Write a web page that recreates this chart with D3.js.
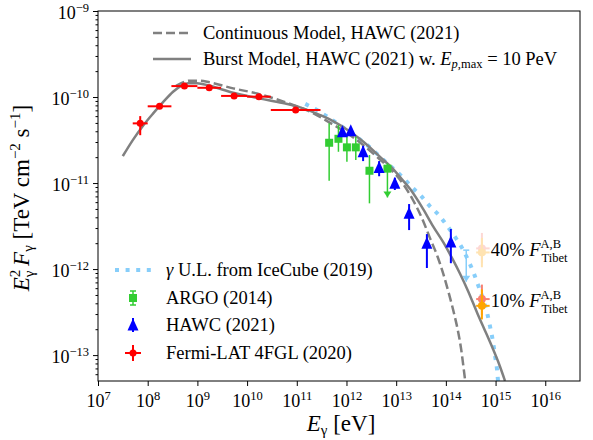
<!DOCTYPE html>
<html>
<head>
<meta charset="utf-8">
<script src="https://cdn.jsdelivr.net/npm/d3@7"></script>
<style>
  body { margin: 0; background: #fff; }
  text { font-family: "Liberation Serif", serif; fill: #000; }
</style>
</head>
<body>
<script>
// ---- data (energies in eV, fluxes in TeV cm^-2 s^-1) ----
// Fermi-LAT 4FGL band fluxes
const fermiE   = [7.07e7, 1.73e8, 5.48e8, 1.73e9, 5.48e9, 1.73e10, 9.49e10];
const fermiElo = [5e7, 1e8, 3e8, 1e9, 3e9, 1e10, 3e10];
const fermiEhi = [1e8, 3e8, 1e9, 3e9, 1e10, 3e10, 3e11];
const fermiF   = [4.94e-11, 7.80e-11, 1.34e-10, 1.28e-10, 1.03e-10, 1.01e-10, 7.06e-11];
const fermiFlo = [3.6e-11, 7.3e-11, 1.29e-10, 1.23e-10, 0.99e-10, 0.96e-10, 6.6e-11];
const fermiFhi = [6.0e-11, 8.3e-11, 1.39e-10, 1.33e-10, 1.07e-10, 1.06e-10, 7.5e-11];

// ARGO-YBJ (2014)
const argoE   = [4.48e11, 6.89e11, 1.02e12, 1.54e12, 2.90e12, 6.67e12];
const argoF   = [2.94e-11, 3.27e-11, 2.60e-11, 2.60e-11, 1.39e-11, 1.47e-11];
const argoFlo = [1.06e-11, 2.31e-11, 1.77e-11, 1.85e-11, 5.81e-12, 6.8e-12];
const argoFhi = [4.94e-11, 4.72e-11, 3.61e-11, 3.45e-11, 2.12e-11, 1.7e-11];
const argoUL  = [false, false, false, false, false, true];

// HAWC (2021)
const hawcE   = [8.28e11, 1.22e12, 2.16e12, 4.54e12, 9.40e12, 1.82e13, 4.15e13, 1.26e14];
const hawcF   = [3.95e-11, 4.06e-11, 2.31e-11, 1.52e-11, 9.93e-12, 4.45e-12, 1.99e-12, 2.07e-12];
const hawcFlo = [3.6e-11, 3.7e-11, 1.80e-11, 1.20e-11, 8.3e-12, 2.84e-12, 1.03e-12, 1.17e-12];
const hawcFhi = [4.3e-11, 4.4e-11, 2.7e-11, 1.8e-11, 1.15e-11, 5.70e-12, 2.55e-12, 2.92e-12];

// Tibet AS-gamma fractions (A = salmon, B = orange)
const tibetLabels = ['40%', '10%'];
const tibetAlpha  = [0.3, 1];
const tibetE   = [5.31e14, 5.31e14];
const tibetElo = [4.07e14, 4.07e14];
const tibetEhi = [7.6e14, 7.6e14];
const tibetAF   = [1.74e-12, 4.48e-13];
const tibetAFlo = [1.17e-12, 2.9e-13];
const tibetAFhi = [2.63e-12, 6.6e-13];
const tibetBF   = [1.56e-12, 3.74e-13];
const tibetBFlo = [1.05e-12, 2.6e-13];
const tibetBFhi = [2.3e-12, 5.8e-13];

// IceCube gamma upper limit curve
const iceE = [1.48e11, 2.34e11, 3.89e11, 7.41e11, 1.48e12, 3.02e12, 6.03e12, 9.55e12, 1.38e13,
  2.09e13, 3.16e13, 4.79e13, 7.41e13, 1.07e14, 1.55e14, 2.14e14, 2.82e14, 3.55e14, 4.47e14,
  5.62e14, 6.76e14, 7.76e14, 8.91e14, 9.77e14, 1.07e15, 1.12e15];
const iceF = [8.32e-11, 7.24e-11, 6.03e-11, 4.68e-11, 3.55e-11, 2.57e-11, 1.78e-11, 1.41e-11, 1.15e-11,
  8.91e-12, 7.08e-12, 5.37e-12, 4.17e-12, 3.16e-12, 2.34e-12, 1.74e-12, 1.26e-12, 9.33e-13, 6.46e-13,
  4.47e-13, 3.09e-13, 2.14e-13, 1.41e-13, 9.77e-14, 6.76e-14, 5.01e-14];
const iceArrowE = [2.57e14];
const iceArrowF = [1.66e-12];
const iceArrowTo = [7.1e-13];

// burst model, Ep,max = 10 PeV
const burstE = [3.16e7, 5.01e7, 8.13e7, 1.29e8, 2.04e8, 3.24e8, 4.68e8, 6.46e8, 9.77e8, 1.78e9,
  5.25e9, 1.58e10, 5.25e10, 1.17e11, 2.95e11, 5.37e11, 1.17e12, 2.19e12, 4.79e12, 8.71e12,
  1.20e13, 1.91e13, 3.47e13, 5.50e13, 8.91e13, 1.35e14, 1.95e14, 2.82e14, 4.27e14, 6.17e14,
  8.91e14, 1.17e15, 1.55e15];
const burstF = [2.06e-11, 3.16e-11, 4.68e-11, 6.46e-11, 8.71e-11, 1.15e-10, 1.35e-10, 1.45e-10, 1.45e-10, 1.35e-10,
  1.12e-10, 9.77e-11, 8.51e-11, 7.59e-11, 6.17e-11, 5.25e-11, 3.98e-11, 3.02e-11, 2.00e-11, 1.45e-11,
  1.17e-11, 8.51e-12, 5.01e-12, 3.16e-12, 2.04e-12, 1.32e-12, 8.71e-13, 5.50e-13, 3.09e-13, 1.91e-13,
  1.17e-13, 7.94e-14, 5.01e-14];

// continuous model
const contE = [3.72e8, 7.08e8, 1.12e9, 1.78e9, 5.25e9, 1.58e10, 5.25e10, 1.02e11, 1.86e11, 4.68e11,
  1.17e12, 2.40e12, 4.79e12, 8.71e12, 1.38e13, 2.19e13, 3.31e13, 4.79e13, 6.76e13, 8.91e13,
  1.17e14, 1.48e14, 1.78e14, 2.04e14, 2.24e14, 2.45e14];
const contF = [1.35e-10, 1.55e-10, 1.55e-10, 1.48e-10, 1.26e-10, 1.10e-10, 8.91e-11, 7.76e-11, 6.76e-11, 5.01e-11,
  3.63e-11, 2.63e-11, 1.86e-11, 1.35e-11, 9.77e-12, 6.31e-12, 3.89e-12, 2.29e-12, 1.41e-12, 8.71e-13,
  5.01e-13, 2.95e-13, 1.82e-13, 1.15e-13, 7.59e-14, 5.01e-14];

// axis ticks
const xTicks = [1e7, 1e8, 1e9, 1e10, 1e11, 1e12, 1e13, 1e14, 1e15, 1e16];
const xExps  = ['7', '8', '9', '10', '11', '12', '13', '14', '15', '16'];
const yTicks = [1e-13, 1e-12, 1e-11, 1e-10, 1e-9];
const yExps  = ['\u221213', '\u221212', '\u221211', '\u221210', '\u22129'];

// ---- layout ----
const svg = d3.select('body').append('svg')
  .attr('width', 593)
  .attr('height', 440);

const x = d3.scaleLog().domain([1e7, 5e16]).range([98, 580]);
const y = d3.scaleLog().domain([5e-14, 1e-9]).range([381, 11]);

const gray = '#808080';
const blue = '#87cefa';
const green = '#32cd32';
const fs = 18.5;   // legend text size

svg.append('clipPath').attr('id', 'clip')
  .append('rect')
  .attr('x', 98).attr('y', 11)
  .attr('width', 482).attr('height', 370);

const plot = svg.append('g').attr('clip-path', 'url(#clip)');

const line = d3.line()
  .x(d => x(d[0]))
  .y(d => y(d[1]))
  .curve(d3.curveMonotoneX);

function arrowHead(g, cx, cy, color) {
  g.append('path')
    .attr('d', `M${cx - 4},${cy - 6}L${cx + 4},${cy - 6}L${cx},${cy}Z`)
    .attr('fill', color);
}

function vbar(g, cx, y1, y2, color, w) {
  g.append('line')
    .attr('x1', cx).attr('x2', cx)
    .attr('y1', y1).attr('y2', y2)
    .attr('stroke', color).attr('stroke-width', w);
}

function hbar(g, x1, x2, cy, color, w) {
  g.append('line')
    .attr('x1', x1).attr('x2', x2)
    .attr('y1', cy).attr('y2', cy)
    .attr('stroke', color).attr('stroke-width', w);
}

function square(g, cx, cy, color) {
  g.append('rect')
    .attr('x', cx - 4).attr('y', cy - 4)
    .attr('width', 8).attr('height', 8)
    .attr('fill', color);
}

function triangle(g, cx, cy, color) {
  g.append('path')
    .attr('d', `M${cx},${cy - 6.5}L${cx - 5.5},${cy + 5.5}L${cx + 5.5},${cy + 5.5}Z`)
    .attr('fill', color);
}

function dot(g, cx, cy, color, r) {
  g.append('circle')
    .attr('cx', cx).attr('cy', cy).attr('r', r)
    .attr('fill', color);
}

// IceCube upper limit
plot.append('path')
  .attr('d', line(d3.zip(iceE, iceF)))
  .attr('fill', 'none')
  .attr('stroke', blue)
  .attr('stroke-width', 4)
  .attr('stroke-dasharray', '4,6.6');

iceArrowE.forEach((e, i) => {
  vbar(plot, x(e), y(iceArrowF[i]), y(iceArrowTo[i]), blue, 1.5);
  hbar(plot, x(e) - 3, x(e) + 3, y(iceArrowF[i]), blue, 1.5);
  arrowHead(plot, x(e), y(iceArrowTo[i]), blue);
});

// models
plot.append('path')
  .attr('d', line(d3.zip(contE, contF)))
  .attr('fill', 'none')
  .attr('stroke', gray)
  .attr('stroke-width', 2.5)
  .attr('stroke-dasharray', '9,4');

plot.append('path')
  .attr('d', line(d3.zip(burstE, burstF)))
  .attr('fill', 'none')
  .attr('stroke', gray)
  .attr('stroke-width', 2.5);

// ARGO
argoE.forEach((e, i) => {
  vbar(plot, x(e), y(argoFhi[i]), y(argoFlo[i]), green, 1.5);
  if (argoUL[i]) arrowHead(plot, x(e), y(argoFlo[i]), green);
  square(plot, x(e), y(argoF[i]), green);
});

// HAWC
hawcE.forEach((e, i) => {
  vbar(plot, x(e), y(hawcFhi[i]), y(hawcFlo[i]), '#0000ff', 2);
  triangle(plot, x(e), y(hawcF[i]), '#0000ff');
});

// Fermi-LAT
fermiE.forEach((e, i) => {
  hbar(plot, x(fermiElo[i]), x(fermiEhi[i]), y(fermiF[i]), '#ff0000', 2);
  vbar(plot, x(e), y(fermiFhi[i]), y(fermiFlo[i]), '#ff0000', 2);
  dot(plot, x(e), y(fermiF[i]), '#ff0000', 3.5);
});

// Tibet
tibetE.forEach((e, i) => {
  const g = plot.append('g').attr('opacity', tibetAlpha[i]);
  hbar(g, x(tibetElo[i]), x(tibetEhi[i]), y(tibetAF[i]), '#fa8072', 2);
  vbar(g, x(e), y(tibetAFhi[i]), y(tibetAFlo[i]), '#fa8072', 2);
  dot(g, x(e), y(tibetAF[i]), '#fa8072', 4);
  hbar(g, x(tibetElo[i]), x(tibetEhi[i]), y(tibetBF[i]), '#ffa500', 2);
  vbar(g, x(e), y(tibetBFhi[i]), y(tibetBFlo[i]), '#ffa500', 2);
  dot(g, x(e), y(tibetBF[i]), '#ffa500', 4);

  const x0 = x(tibetEhi[i]) + 1;
  const t = svg.append('text')
    .attr('x', x0)
    .attr('y', y(tibetAF[i]) + 8)
    .attr('font-size', fs);
  t.append('tspan').text(tibetLabels[i] + ' ');
  t.append('tspan').attr('font-style', 'italic').text('F');
  const fx = +t.node().getComputedTextLength();
  t.append('tspan').attr('font-size', 12.5).attr('dy', -8).text('A,B');
  t.append('tspan').attr('font-size', 12.5)
    .attr('x', x0 + fx + 1).attr('dy', 14).text('Tibet');
});

// ---- axes ----
svg.append('rect')
  .attr('x', 98).attr('y', 11)
  .attr('width', 482).attr('height', 370)
  .attr('fill', 'none')
  .attr('stroke', '#000')
  .attr('stroke-width', 1);

const xAxis = svg.append('g')
  .attr('transform', 'translate(0,381)')
  .call(d3.axisBottom(x).tickValues(xTicks).tickSize(5).tickPadding(5).tickFormat(''));
xAxis.select('.domain').remove();
xAxis.selectAll('.tick text').each(function (d, i) {
  const t = d3.select(this).attr('font-size', 18).attr('dy', '0.9em')
    .attr('font-family', '"Liberation Serif", serif');
  t.append('tspan').text('10');
  t.append('tspan').attr('font-size', 12.5).attr('dy', -7).text(xExps[i]);
});

const yMinor = [];
yTicks.forEach(t => { for (let k = 2; k < 10; k++) if (t * k < 1e-9) yMinor.push(t * k); });
[6e-14, 7e-14, 8e-14, 9e-14].forEach(v => yMinor.push(v));

const yMinorAxis = svg.append('g')
  .attr('transform', 'translate(98,0)')
  .call(d3.axisLeft(y).tickValues(yMinor).tickSize(2.5).tickFormat(''));
yMinorAxis.select('.domain').remove();

const yAxis = svg.append('g')
  .attr('transform', 'translate(98,0)')
  .call(d3.axisLeft(y).tickValues(yTicks).tickSize(5).tickPadding(4).tickFormat(''));
yAxis.select('.domain').remove();
yAxis.selectAll('.tick text').each(function (d, i) {
  const t = d3.select(this).attr('font-size', 18).attr('dy', '0.4em')
    .attr('font-family', '"Liberation Serif", serif');
  t.append('tspan').text('10');
  t.append('tspan').attr('font-size', 12.5).attr('dy', -7).text(yExps[i]);
});

// x label
const xl = svg.append('text')
  .attr('x', 341).attr('y', 431)
  .attr('text-anchor', 'middle')
  .attr('font-size', 23);
xl.append('tspan').attr('font-style', 'italic').text('E');
xl.append('tspan').attr('font-size', 15).attr('dy', 4).text('\u03b3');
xl.append('tspan').attr('dy', -4).text(' [eV]');

// y label
const yl = svg.append('text')
  .attr('transform', 'translate(29,198) rotate(-90)')
  .attr('text-anchor', 'middle')
  .attr('font-size', 23);
yl.append('tspan').attr('font-style', 'italic').text('E');
yl.append('tspan').attr('font-size', 15).attr('dy', -9).text('2');
yl.append('tspan').attr('font-size', 15).attr('dx', -7.5).attr('dy', 14).text('\u03b3');
yl.append('tspan').attr('dy', -5).attr('font-style', 'italic').text('\u2009F');
yl.append('tspan').attr('font-size', 15).attr('dy', 4).text('\u03b3');
yl.append('tspan').attr('dy', -4).text(' [TeV cm');
yl.append('tspan').attr('font-size', 15).attr('dy', -9).text('\u22122');
yl.append('tspan').attr('dy', 9).text(' s');
yl.append('tspan').attr('font-size', 15).attr('dy', -9).text('\u22121');
yl.append('tspan').attr('dy', 9).text(']');

// ---- legends ----
const legTop = svg.append('g');
legTop.append('line')
  .attr('x1', 153).attr('x2', 191).attr('y1', 33).attr('y2', 33)
  .attr('stroke', gray).attr('stroke-width', 2.5).attr('stroke-dasharray', '9,4');
legTop.append('text').attr('x', 203).attr('y', 39).attr('font-size', fs)
  .text('Continuous Model, HAWC (2021)');
legTop.append('line')
  .attr('x1', 153).attr('x2', 191).attr('y1', 59).attr('y2', 59)
  .attr('stroke', gray).attr('stroke-width', 2.5);
const bt = legTop.append('text').attr('x', 203).attr('y', 65).attr('font-size', fs);
bt.append('tspan').text('Burst Model, HAWC (2021) w. ');
bt.append('tspan').attr('font-style', 'italic').text('E');
bt.append('tspan').attr('font-size', 12.5).attr('dy', 3).attr('font-style', 'italic').text('p');
bt.append('tspan').attr('font-size', 12.5).text(',max');
bt.append('tspan').attr('dy', -3).text(' = 10 PeV');

const legBot = svg.append('g');
legBot.append('line')
  .attr('x1', 115).attr('x2', 153).attr('y1', 270).attr('y2', 270)
  .attr('stroke', blue).attr('stroke-width', 4).attr('stroke-dasharray', '4,6.6');
const it = legBot.append('text').attr('x', 166).attr('y', 276).attr('font-size', fs);
it.append('tspan').attr('font-style', 'italic').text('\u03b3');
it.append('tspan').text(' U.L. from IceCube (2019)');

vbar(legBot, 133, 291, 305, green, 1.5);
hbar(legBot, 130, 136, 291, green, 1.5);
hbar(legBot, 130, 136, 305, green, 1.5);
square(legBot, 133, 298, green);
legBot.append('text').attr('x', 166).attr('y', 304).attr('font-size', fs).text('ARGO (2014)');

vbar(legBot, 133, 318, 332, '#0000ff', 2);
triangle(legBot, 133, 325, '#0000ff');
legBot.append('text').attr('x', 166).attr('y', 331).attr('font-size', fs).text('HAWC (2021)');

hbar(legBot, 125, 141, 353, '#ff0000', 2);
vbar(legBot, 133, 345, 361, '#ff0000', 2);
dot(legBot, 133, 353, '#ff0000', 3.5);
legBot.append('text').attr('x', 166).attr('y', 359).attr('font-size', fs).text('Fermi-LAT 4FGL (2020)');
</script>
</body>
</html>
